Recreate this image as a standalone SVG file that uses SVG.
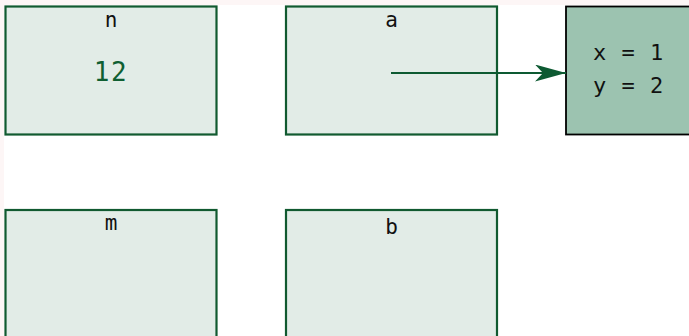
<svg xmlns="http://www.w3.org/2000/svg" width="689" height="336" viewBox="0 0 689 336">
<defs>
<style>
.var{fill:#e2ece7;stroke:#115a30;stroke-width:2.2}
.obj{fill:#9cc3b0;stroke:#000;stroke-width:1.8}
.lbl{font-family:"DejaVu Sans Mono",monospace;font-size:21px;fill:#111;text-anchor:middle}
.val{font-family:"DejaVu Sans Mono",monospace;font-size:26px;fill:#0f5f32;text-anchor:middle;letter-spacing:1.5px}
.fld{font-family:"DejaVu Sans Mono",monospace;font-size:22px;fill:#111;letter-spacing:1px}
.conn{stroke:#0d5a32;stroke-width:2;fill:none}
</style>
<marker id="ah" markerUnits="userSpaceOnUse" viewBox="0 0 31 17" refX="31" refY="8.5" markerWidth="31" markerHeight="17" orient="auto">
<path d="M0,0 L31,8.5 L0,17 L8,8.5 z" fill="#0d5a32"/>
</marker>
</defs>
<rect x="0" y="0" width="689" height="336" fill="#fdf6f6"/>
<rect x="4" y="5" width="685" height="331" fill="#ffffff"/>
<g id="node-n">
<rect class="var" x="5.5" y="6.5" width="211" height="128"/>
<text class="lbl" x="111" y="26.5">n</text>
<text class="val" x="111" y="80.5">12</text>
</g>
<g id="node-a">
<rect class="var" x="286" y="6.5" width="211" height="128"/>
<text class="lbl" x="391.5" y="26.5">a</text>
</g>
<g id="node-obj">
<rect class="obj" x="566" y="6.5" width="200" height="128"/>
<text class="fld" x="593" y="60">x = 1</text>
<text class="fld" x="593" y="93">y = 2</text>
</g>
<g id="node-m">
<rect class="var" x="5.5" y="210" width="211" height="128"/>
<text class="lbl" x="111" y="230">m</text>
</g>
<g id="node-b">
<rect class="var" x="286" y="210" width="211" height="128"/>
<text class="lbl" x="391.5" y="234">b</text>
</g>
<g id="connectors">
<line class="conn" x1="391" y1="73" x2="566" y2="73" marker-end="url(#ah)"/>
</g>
</svg>
